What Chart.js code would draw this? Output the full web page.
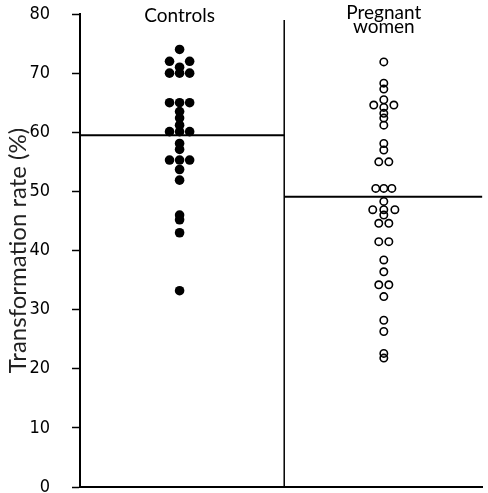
<!DOCTYPE html>
<html>
<head>
<meta charset="utf-8">
<script src="https://cdn.jsdelivr.net/npm/chart.js@4.4.1/dist/chart.umd.min.js"></script>
<style>
  html, body { margin: 0; padding: 0; background: #fff; }
  canvas { display: block; }
</style>
</head>
<body>
<canvas id="chart" width="488" height="493"></canvas>
<script>
const groupLabels = [['Controls'], ['Pregnant', 'women']];
const groupX = [0.99, 3.02];   // column centres on the x scale
const dividerX = 2.03;
const yTicks = [0, 10, 20, 30, 40, 50, 60, 70, 80];

// transformation rate (%) and the column each dot sits in (-1 left, 0 centre, 1 right)
const controlsRate = [74, 72, 72, 71, 70, 70, 70, 65, 65, 65, 63.5, 62.4, 61.2,
    60.1, 60.1, 60.1, 58.1, 57.1, 55.3, 55.3, 55.3, 53.7, 51.9, 46, 45.2, 43, 33.2];
const controlsSide = [0, -1, 1, 0, -1, 0, 1, -1, 0, 1, 0, 0, 0,
    -1, 0, 1, 0, 0, -1, 0, 1, 0, 0, 0, 0, 0, 0];

const pregnantRate = [71.9, 68.3, 67.3, 65.5, 64.6, 64.2, 64.6, 63.2, 62.4, 61.2,
    58.1, 57, 55, 55, 50.5, 50.5, 50.5, 48.3, 46.9, 46.9, 46.9, 46, 44.6, 44.6,
    41.5, 41.5, 38.4, 36.4, 34.2, 34.2, 32.2, 28.2, 26.3, 22.6, 21.8];
const pregnantSide = [0, 0, 0, 0, -1, 0, 1, 0, 0, 0,
    0, 0, -0.5, 0.5, -0.8, 0, 0.8, 0, -1.1, 0, 1.1, 0, -0.5, 0.5,
    -0.5, 0.5, 0, 0, -0.5, 0.5, 0, 0, 0, 0, 0];

const groupMeans = [59.5, 49.1];
const dividerTop = 79;

const spread = 0.1;

function toPoints(rates, sides, centre) {
    return rates.map((r, i) => ({ x: centre + sides[i] * spread, y: r }));
}

const groupLabelPlugin = {
    id: 'groupLabels',
    afterDraw(chart) {
        const ctx = chart.ctx;
        const xs = chart.scales.x;
        const top = chart.chartArea.top;
        ctx.save();
        ctx.fillStyle = '#000';
        ctx.font = '19px Lato';
        ctx.textAlign = 'center';
        ctx.textBaseline = 'alphabetic';
        groupLabels.forEach((lines, g) => {
            const cx = xs.getPixelForValue(groupX[g]);
            const first = lines.length > 1 ? top + 5 : top + 8;
            lines.forEach((line, i) => {
                ctx.fillText(line, cx, first + i * 14);
            });
        });
        ctx.restore();
    }
};

const ctx = document.getElementById('chart').getContext('2d');
new Chart(ctx, {
    type: 'scatter',
    data: {
        datasets: [
            {
                type: 'line',
                data: [{ x: 0, y: groupMeans[0] }, { x: dividerX, y: groupMeans[0] }],
                borderColor: '#000',
                borderWidth: 2,
                pointRadius: 0
            },
            {
                type: 'line',
                data: [{ x: dividerX, y: groupMeans[1] }, { x: 4, y: groupMeans[1] }],
                borderColor: '#000',
                borderWidth: 2,
                pointRadius: 0
            },
            {
                type: 'line',
                data: [{ x: dividerX, y: 0 }, { x: dividerX, y: dividerTop }],
                borderColor: '#000',
                borderWidth: 1.5,
                pointRadius: 0
            },
            {
                label: 'Controls',
                data: toPoints(controlsRate, controlsSide, groupX[0]),
                pointRadius: 4.8,
                pointBorderWidth: 0,
                backgroundColor: '#000',
                borderColor: '#000'
            },
            {
                label: 'Pregnant women',
                data: toPoints(pregnantRate, pregnantSide, groupX[1]),
                pointRadius: 3.7,
                pointBorderWidth: 1.6,
                backgroundColor: 'rgba(0,0,0,0)',
                borderColor: '#000'
            }
        ]
    },
    options: {
        responsive: false,
        animation: false,
        layout: { padding: { top: 14, bottom: 6, left: 0, right: 0 } },
        plugins: {
            legend: { display: false },
            tooltip: { enabled: false }
        },
        scales: {
            x: {
                type: 'linear',
                min: 0,
                max: 4,
                ticks: { display: false },
                grid: { drawOnChartArea: false, drawTicks: false },
                border: { display: true, color: '#000', width: 2 },
                afterFit(scale) { scale.height = 0; }
            },
            y: {
                min: 0,
                max: 80,
                afterBuildTicks(scale) { scale.ticks = yTicks.map(v => ({ value: v })); },
                ticks: {
                    color: '#000',
                    padding: 22,
                    font: { family: "'Liberation Sans Narrow', 'DejaVu Sans Condensed', Lato", size: 18 }
                },
                grid: {
                    drawOnChartArea: false,
                    drawTicks: true,
                    tickLength: 8,
                    tickColor: '#000',
                    tickWidth: 1.5
                },
                border: { display: true, color: '#000', width: 2 },
                title: {
                    display: true,
                    text: 'Transformation rate (%)',
                    color: '#222',
                    font: { family: 'Lato', size: 24 },
                    padding: { top: 4, bottom: 0 }
                },
                afterFit(scale) {
                    scale.width = 80;
                    scale.paddingTop = 0;
                    scale.paddingBottom = 0;
                }
            }
        }
    },
    plugins: [groupLabelPlugin]
});
</script>
</body>
</html>
